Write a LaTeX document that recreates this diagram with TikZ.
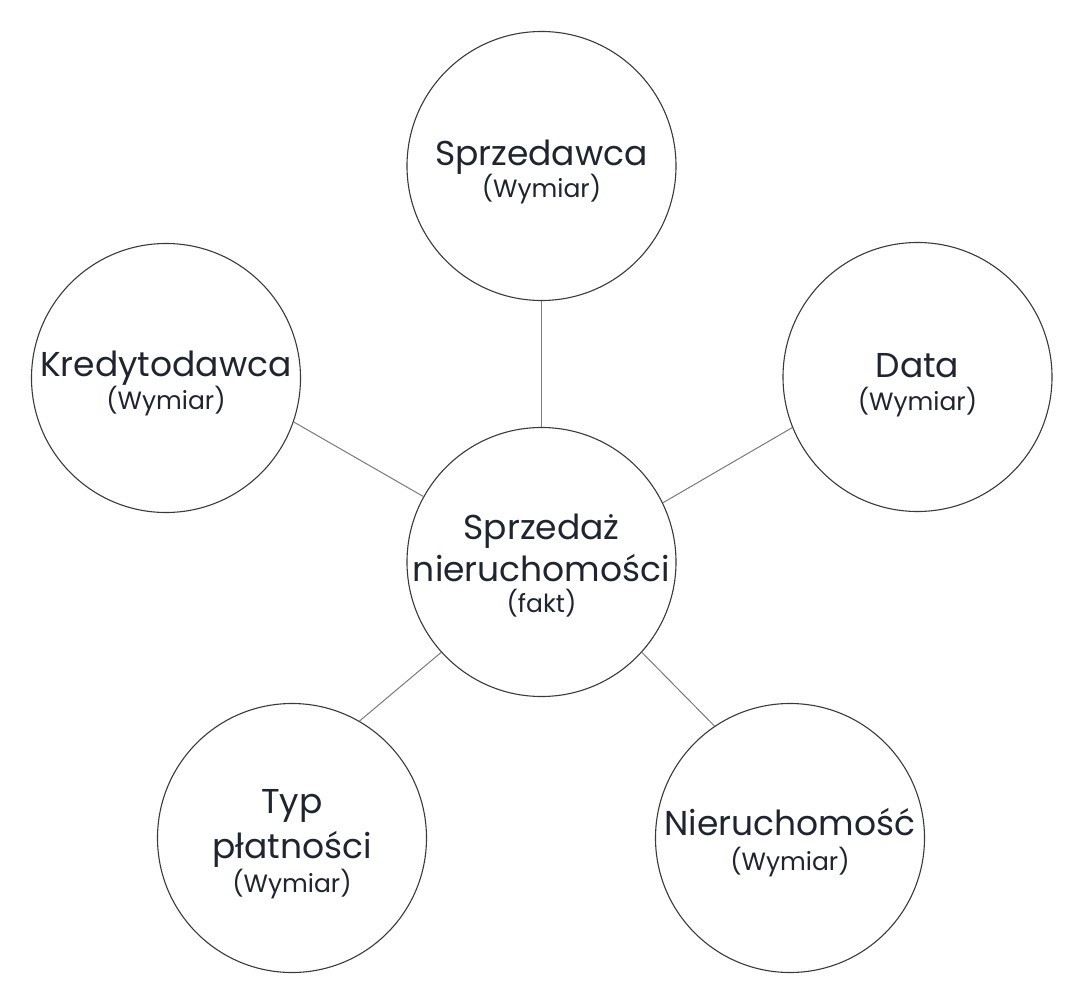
\documentclass[tikz,border=0pt]{standalone}
\usepackage{fontspec}
\setmainfont{Poppins}
\definecolor{ink}{HTML}{1E2430}
\definecolor{ring}{HTML}{3A3A3A}
\definecolor{wire}{HTML}{7A7A7A}
\begin{document}
\begin{tikzpicture}[x=1pt,y=-1pt,
  bubble/.style={circle,draw=ring,line width=1.1pt,minimum size=269pt,inner sep=0pt},
  big/.style={anchor=base,inner sep=0pt,text=ink,font=\fontsize{34.5}{40}\selectfont},
  small/.style={anchor=base,inner sep=0pt,text=ink,font=\fontsize{25}{30}\selectfont},
  link/.style={draw=wire,line width=1pt}]
\fill[white] (0,0) rectangle (1084,992);
\useasboundingbox (0,0) rectangle (1084,992);

\node[bubble] (sprz) at (541.5,166) {};
\node[bubble] (kred) at (166,378) {};
\node[bubble] (data) at (917.5,377) {};
\node[bubble] (fakt) at (541.5,562) {};
\node[bubble] (typ)  at (292,838) {};
\node[bubble] (nier) at (790,838) {};

\node[big]   (sprzA) at (541.5,166) {Sprzedawca};
\node[small] (sprzB) at (541.5,198) {(Wymiar)};
\node[big]   (kredA) at (166,376) {Kredytodawca};
\node[small] (kredB) at (166,409) {(Wymiar)};
\node[big]   (dataA) at (917.5,377) {Data};
\node[small] (dataB) at (917.5,410) {(Wymiar)};
\node[big]   (faktA) at (541.5,539) {Sprzedaż};
\node[big]   (faktB) at (541.5,581) {nieruchomości};
\node[small] (faktC) at (541.5,612) {(fakt)};
\node[big]   (typA)  at (292,813) {Typ};
\node[big]   (typB)  at (292,858) {płatności};
\node[small] (typC)  at (292,892) {(Wymiar)};
\node[big]   (nierA) at (790,835) {Nieruchomość};
\node[small] (nierB) at (790,870) {(Wymiar)};

\draw[link] (sprz.south) -- (fakt.north);
\draw[link] (kred.-19) -- (fakt.151.5);
\draw[link] (data.202) -- (fakt.26.3);
\draw[link] (typ.60) -- (fakt.222.2);
\draw[link] (nier.124.5) -- (fakt.-42.5);
\end{tikzpicture}
\end{document}
